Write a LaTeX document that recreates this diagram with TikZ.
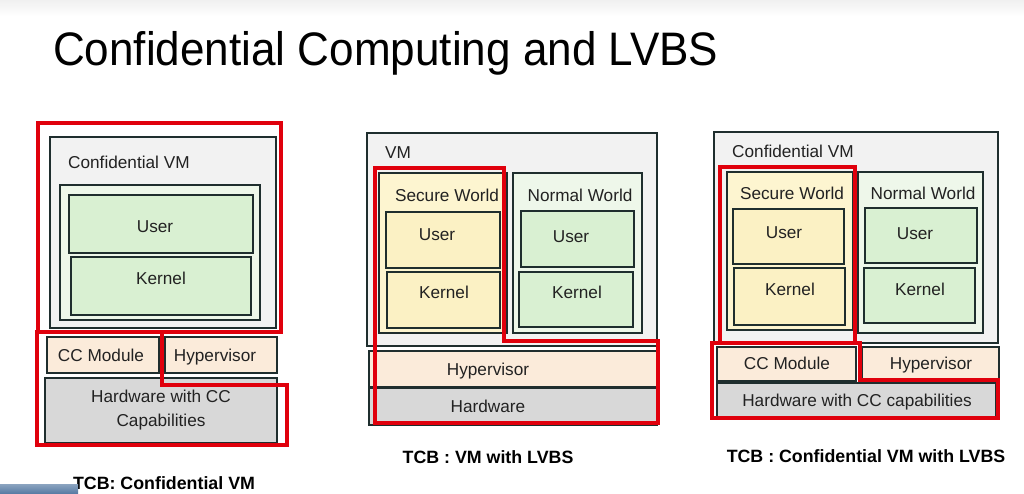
\documentclass[tikz,border=0pt]{standalone}
\usepackage{fontspec}
\setmainfont{Liberation Sans}
\definecolor{lnc}{HTML}{1F2E2E}
\definecolor{redc}{HTML}{E0000C}
\definecolor{vmgray}{HTML}{F2F2F2}
\definecolor{lgreen}{HTML}{EEF7EA}
\definecolor{gbox}{HTML}{D9F0D2}
\definecolor{lyel}{HTML}{FDF5D0}
\definecolor{ybox}{HTML}{FBF1C4}
\definecolor{peach}{HTML}{FBEBDA}
\definecolor{hwgray}{HTML}{D8D8D8}
\definecolor{txt}{HTML}{222222}
\definecolor{bluebar}{HTML}{5A7DA5}
\newcommand\bx[6]{\node[box, fill=#6, minimum width={(#4)-(#2)}, minimum height={(#5)-(#3)}, anchor=north west] (#1) at (#2,#3) {};}
\tikzset{
  box/.style={draw=lnc, line width=1.9pt, inner sep=0pt, outer sep=0pt},
  redline/.style={draw=redc, line width=3.8pt, line join=miter},
  lbl/.style={text=txt, font=\fontsize{17.2}{20}\selectfont, inner sep=0pt, text height=12.2pt, text depth=0pt},
  tcb/.style={text=black, font=\bfseries\fontsize{17.8}{21}\selectfont, inner sep=0pt, text height=12.8pt, text depth=0pt},
}
\begin{document}
\begin{tikzpicture}[x=1pt,y=-1pt]
\useasboundingbox (0,0) rectangle (1024,493);
\fill[white] (0,0) rectangle (1024,493);
\shade[top color=black!6, bottom color=white] (0,0) rectangle (1024,16);
% title
\node[anchor=base west, inner sep=0pt, font=\fontsize{47}{52}\selectfont] (title) at (53,65) {\scalebox{0.937}[1]{Confidential Computing and LVBS}};

% ---------- panel 1 ----------
\bx{cvm1}{50}{137}{276}{328}{vmgray}
\bx{in1}{60}{185}{260}{320}{lgreen}
\bx{u1}{69}{195}{253}{253}{gbox}
\bx{k1}{71}{257}{251}{315}{gbox}
\bx{cc1}{47}{337}{159}{373}{peach}
\bx{hv1}{165}{337}{277}{373}{peach}
\bx{hw1}{45}{378}{277}{443}{hwgray}
\node[lbl, anchor=west] (cvm1l) at (68,162) {Confidential VM};
\node[lbl] (u1l) at (155,226) {User};
\node[lbl] (k1l) at (161,278) {Kernel};
\node[lbl] (cc1l) at (101,355) {CC Module};
\node[lbl] (hv1l) at (215,355) {Hypervisor};
\node[lbl] (hw1a) at (161,396) {Hardware with CC};
\node[lbl] (hw1b) at (161,420) {Capabilities};
\draw[redline] (38,123) rectangle (281,332);
\draw[redline] (37,332) -- (162,332) -- (162,385) -- (287,385) -- (287,445) -- (37,445) -- cycle;
\node[tcb] (tcb1) at (164,483) {TCB: Confidential VM};

% ---------- panel 2 ----------
\bx{vm2}{367}{133}{657}{346}{vmgray}
\bx{sw2}{379}{173}{507}{333}{lyel}
\bx{nw2}{513}{173}{642}{333}{lgreen}
\bx{su2}{386}{212}{500}{268}{ybox}
\bx{sk2}{387}{272}{500}{328}{ybox}
\bx{nu2}{521}{211}{634}{267}{gbox}
\bx{nk2}{519}{272}{633}{327}{gbox}
\bx{hv2}{369}{351}{657}{387}{peach}
\bx{hw2}{369}{388}{657}{425}{hwgray}
\node[lbl, anchor=west] (vm2l) at (385,152) {VM};
\node[lbl] (sw2l) at (447,195) {Secure World};
\node[lbl] (nw2l) at (580,195) {Normal World};
\node[lbl] (su2l) at (437,234) {User};
\node[lbl] (sk2l) at (444,292) {Kernel};
\node[lbl] (nu2l) at (571,236) {User};
\node[lbl] (nk2l) at (577,292) {Kernel};
\node[lbl] (hv2l) at (488,369) {Hypervisor};
\node[lbl] (hw2l) at (488,406) {Hardware};
\draw[redline] (375,168) -- (504,168) -- (504,341) -- (658,341) -- (658,423) -- (375,423) -- cycle;
\node[tcb] (tcb2) at (488,457) {TCB : VM with LVBS};

% ---------- panel 3 ----------
\bx{cvm3}{714}{132}{998}{343}{vmgray}
\bx{sw3}{727}{172}{853}{330}{lyel}
\bx{nw3}{858}{172}{983}{333}{lgreen}
\bx{su3}{733}{209}{844}{264}{ybox}
\bx{sk3}{734}{268}{845}{325}{ybox}
\bx{nu3}{865}{208}{977}{263}{gbox}
\bx{nk3}{864}{268}{975}{323}{gbox}
\bx{cc3}{717}{347}{856}{381}{peach}
\bx{hv3}{862}{347}{999}{379}{peach}
\bx{hw3}{717}{383}{996}{417}{hwgray}
\node[lbl, anchor=west] (cvm3l) at (732,151) {Confidential VM};
\node[lbl] (sw3l) at (792,193) {Secure World};
\node[lbl] (nw3l) at (923,193) {Normal World};
\node[lbl] (su3l) at (784,232) {User};
\node[lbl] (sk3l) at (790,289) {Kernel};
\node[lbl] (nu3l) at (915,233) {User};
\node[lbl] (nk3l) at (920,289) {Kernel};
\node[lbl] (cc3l) at (787,363) {CC Module};
\node[lbl] (hv3l) at (931,363) {Hypervisor};
\node[lbl] (hw3l) at (857,400) {Hardware with CC capabilities};
\draw[redline] (720,167) rectangle (855,343);
\draw[redline] (712,343) -- (860,343) -- (860,380) -- (998,380) -- (998,418) -- (712,418) -- cycle;
\node[tcb] (tcb3) at (866,456) {TCB : Confidential VM with LVBS};

% bottom-left bar
\shade[top color=bluebar!70, bottom color=bluebar] (0,484) rectangle (78,493);
\end{tikzpicture}
\end{document}
